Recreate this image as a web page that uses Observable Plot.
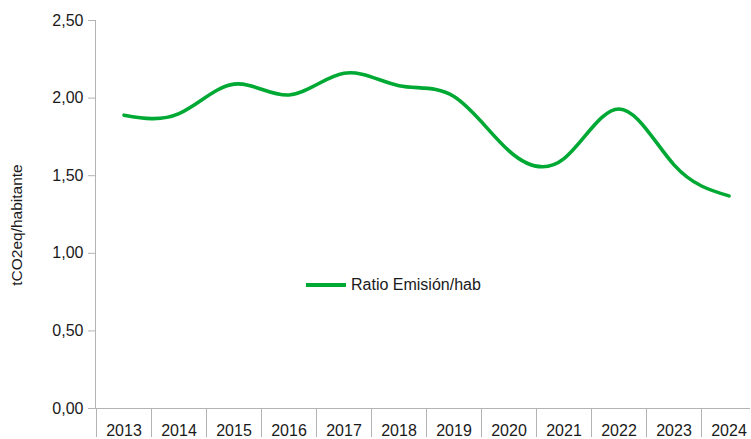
<!DOCTYPE html>
<html>
<head>
<meta charset="utf-8">
<script src="https://cdn.jsdelivr.net/npm/d3@7"></script>
<script src="https://cdn.jsdelivr.net/npm/@observablehq/plot@0.6"></script>
<style>
  body { margin: 0; background: #fff; }
  #wrap { position: relative; width: 751px; height: 439px; overflow: hidden; font-family: "Liberation Sans", Arial, sans-serif; }
  #legend { position: absolute; left: 306px; top: 276px; display: flex; align-items: center; font-size: 16px; line-height: 18px; color: #1a1a1a; }
  #legend .sw { width: 40px; height: 3.5px; background: #00a933; margin-right: 5px; }
  #ylabel { position: absolute; left: 17px; top: 225px; transform: translate(-50%, -50%) rotate(-90deg); white-space: nowrap; font-size: 15.5px; line-height: 18px; color: #1a1a1a; }
</style>
</head>
<body>
<div id="wrap"><div id="ylabel"></div><div id="legend"><span class="sw"></span><span id="sname"></span></div></div>
<script>
const years = [2013, 2014, 2015, 2016, 2017, 2018, 2019, 2020, 2021, 2022, 2023, 2024];
const ratio = [1.89, 1.90, 2.09, 2.02, 2.16, 2.08, 2.01, 1.66, 1.61, 1.93, 1.57, 1.37];
const yTicks = [0, 0.5, 1, 1.5, 2, 2.5];
const seriesName = "Ratio Emisión/hab";
const yLabel = "tCO2eq/habitante";

document.getElementById("ylabel").textContent = yLabel;
document.getElementById("sname").textContent = seriesName;

const data = years.map((y, i) => ({year: y, value: ratio[i]}));
const bounds = [years[0] - 0.5, ...years.map(y => y + 0.5)];
const fmt = d3.format(".2f");
const comma = v => fmt(v).replace(".", ",");

const chart = Plot.plot({
  width: 751,
  height: 439,
  marginLeft: 96,
  marginRight: 1,
  marginTop: 20,
  marginBottom: 31,
  style: {fontFamily: "Liberation Sans, Arial, sans-serif", fontSize: "16px", color: "#1a1a1a", background: "#fff", overflow: "hidden"},
  x: {domain: [years[0] - 0.5, years[years.length - 1] + 0.5], range: [96, 756]},
  y: {domain: [0, 2.5]},
  marks: [
    Plot.axisY({ticks: yTicks, tickFormat: comma, tickSize: 8, tickPadding: 5, stroke: "#b3b3b3", strokeOpacity: 1, label: null, fontSize: 16}),
    Plot.axisX({ticks: bounds, tickSize: 29, tickFormat: () => "", stroke: "#b3b3b3", strokeOpacity: 1, label: null}),
    Plot.axisX({ticks: years, tickSize: 0, tickPadding: 16, tickFormat: d => String(d), label: null, fontSize: 16}),
    Plot.ruleX([bounds[0]], {stroke: "#b3b3b3", dx: -1}),
    Plot.ruleY([0], {stroke: "#b3b3b3"}),
    Plot.line(data, {x: "year", y: "value", stroke: "#00a933", strokeWidth: 3.6, curve: "natural"})
  ]
});
document.getElementById("wrap").prepend(chart);
chart.style.display = "block";
</script>
</body>
</html>
